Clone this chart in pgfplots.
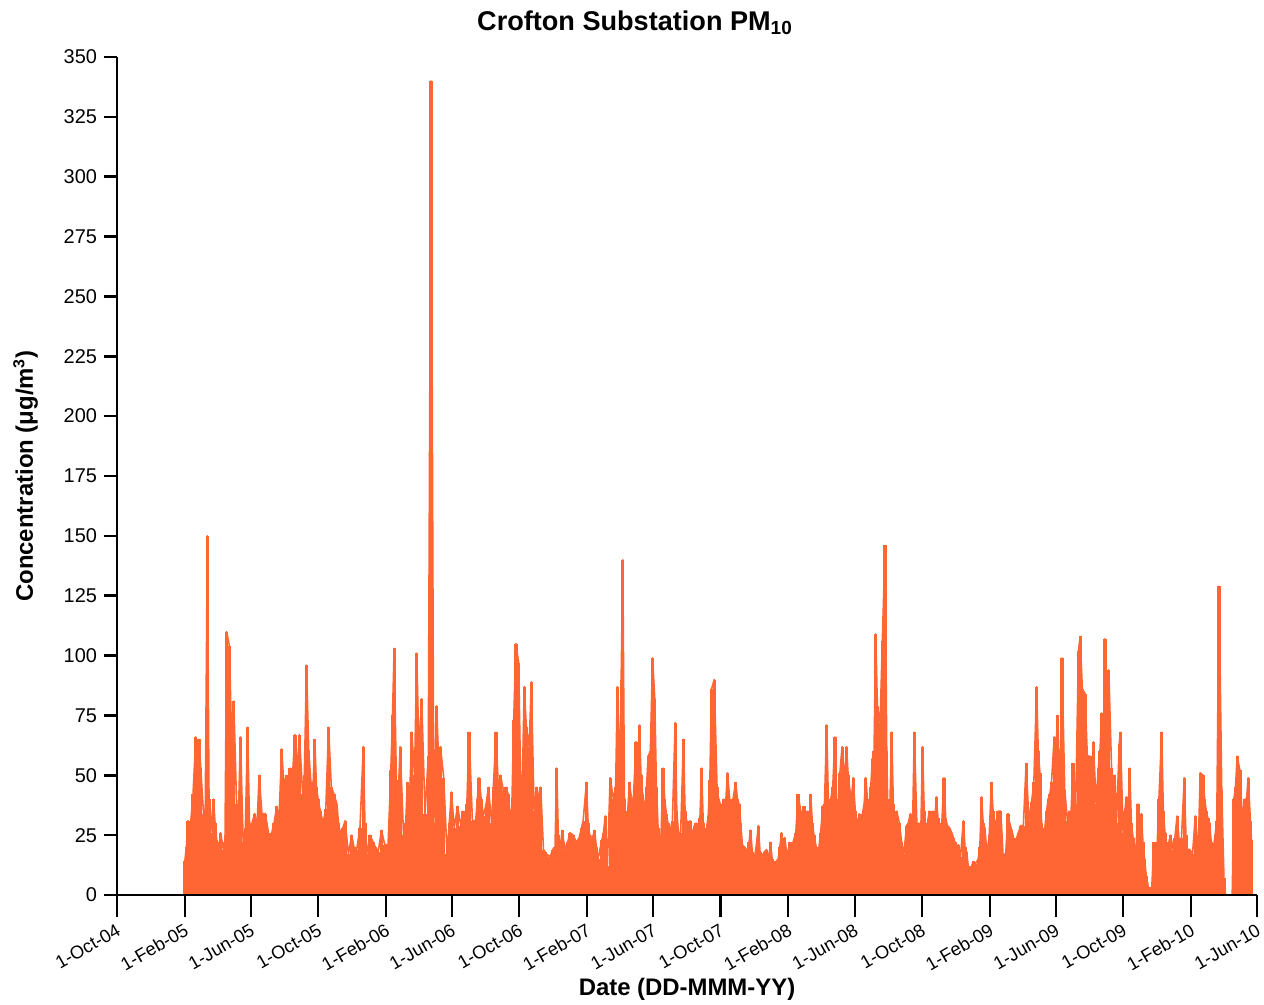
\documentclass[border=0pt]{standalone}
\usepackage{fontspec}
\setmainfont{Liberation Sans}
\usepackage{pgfplots}
\usepackage{pgfplotstable}
\pgfplotsset{compat=1.18}
\definecolor{pmorange}{HTML}{FF6633}
% day = days since 1-Oct-04, pm = daily PM10 (ug/m3)
\pgfplotstableread{
day pm
123 14
126 20
129 31
133 28
138 42
143 66
146 60
149 65
152 53
157 34
160 30
164 150
167 40
170 26
175 40
178 30
181 23
185 20
188 26
193 19
196 22
199 110
204 104
208 65
212 81
217 38
220 30
224 66
229 22
233 28
237 70
241 24
245 30
250 34
254 28
258 50
263 34
269 34
272 30
275 26
278 22
281 26
285 30
290 37
294 32
299 61
303 45
307 50
310 44
314 53
318 48
323 67
327 52
331 67
337 42
340 50
344 96
348 60
352 47
355 40
359 65
362 45
365 40
369 35
374 30
379 36
384 70
389 45
394 42
399 38
402 30
405 26
410 28
414 31
420 17
426 25
430 20
435 19
441 28
447 62
450 30
453 17
459 25
465 22
469 20
474 18
480 27
486 21
492 21
497 52
500 75
503 103
507 48
510 40
514 62
520 25
524 30
527 47
531 40
535 68
540 50
544 101
548 60
553 82
559 34
565 58
570 340
575 30
580 79
584 55
587 62
593 49
599 17
603 30
607 43
612 28
618 37
624 29
628 35
632 30
635 38
639 68
645 31
651 31
654 40
657 49
661 40
665 33
670 38
674 45
680 30
683 45
688 68
692 45
696 50
701 44
706 45
710 42
713 35
716 30
720 73
724 105
729 97
733 41
736 50
739 87
743 70
748 62
752 89
757 35
762 45
766 40
769 45
774 19
777 18
780 17
786 16
791 19
795 20
798 53
801 25
804 19
808 27
811 22
815 19
818 22
822 26
828 25
834 22
839 24
843 28
846 31
852 47
855 30
858 25
863 24
867 27
870 20
873 15
880 23
883 26
886 33
890 12
895 49
901 40
905 45
908 87
912 50
915 90
918 140
921 40
924 27
927 35
930 47
934 40
937 39
942 64
945 50
948 71
951 50
954 42
958 35
961 45
964 58
968 60
972 99
976 82
979 45
982 28
987 21
991 53
994 40
997 34
1000 30
1004 27
1008 31
1013 72
1016 35
1019 26
1023 26
1028 65
1031 35
1034 31
1037 28
1040 31
1044 25
1048 29
1051 30
1055 29
1058 32
1061 53
1064 30
1067 26
1070 28
1073 33
1076 48
1079 86
1084 90
1089 45
1092 40
1095 38
1098 35
1101 40
1104 36
1108 51
1112 40
1115 38
1118 40
1123 47
1126 40
1129 38
1132 30
1135 21
1139 20
1143 18
1147 22
1150 27
1153 18
1156 14
1160 20
1164 29
1167 18
1170 16
1175 18
1179 19
1183 15
1186 22
1189 15
1192 11
1196 14
1200 15
1203 20
1206 26
1209 22
1212 24
1216 16
1221 22
1224 18
1227 22
1232 26
1236 42
1241 35
1244 30
1247 37
1250 30
1253 35
1256 30
1259 42
1262 30
1265 25
1269 20
1273 18
1277 26
1281 37
1284 38
1288 71
1291 40
1294 38
1299 45
1303 66
1306 40
1309 33
1312 51
1316 62
1320 48
1324 62
1327 50
1330 44
1333 40
1336 49
1340 35
1343 29
1347 34
1350 30
1353 34
1356 38
1359 49
1362 40
1365 37
1368 45
1371 57
1374 60
1377 109
1380 79
1385 72
1389 106
1394 146
1397 60
1400 22
1403 40
1406 68
1409 38
1412 30
1415 35
1420 30
1424 22
1428 17
1433 29
1436 30
1440 34
1444 30
1447 68
1452 27
1455 30
1459 28
1462 62
1465 35
1468 27
1471 30
1474 35
1478 34
1481 35
1484 30
1487 41
1490 32
1493 28
1497 30
1501 49
1504 32
1507 29
1511 28
1515 26
1518 24
1521 22
1524 20
1527 21
1531 16
1536 31
1539 20
1542 18
1545 12
1548 10
1551 12
1554 14
1558 13
1563 15
1566 20
1569 41
1572 30
1575 28
1579 17
1583 25
1587 47
1590 35
1593 31
1596 30
1599 35
1604 35
1608 17
1613 17
1617 34
1620 30
1624 27
1627 24
1630 22
1633 24
1636 26
1640 29
1645 29
1650 55
1655 31
1660 39
1664 47
1669 87
1672 60
1675 51
1678 30
1681 15
1684 28
1687 35
1690 40
1693 42
1696 47
1701 66
1704 60
1707 75
1711 40
1715 99
1720 44
1725 31
1728 35
1731 31
1735 55
1740 38
1745 102
1748 108
1752 86
1757 84
1761 58
1766 58
1770 51
1772 64
1777 38
1781 53
1784 60
1787 76
1790 55
1793 107
1797 59
1800 94
1805 53
1808 48
1811 50
1814 30
1819 63
1821 68
1826 26
1829 35
1832 41
1835 35
1838 53
1841 30
1844 24
1849 17
1853 38
1856 30
1859 34
1862 22
1865 15
1868 8
1872 3
1875 3
1878 3
1882 22
1885 20
1888 22
1891 40
1896 68
1899 35
1902 26
1906 19
1909 22
1912 25
1917 19
1920 24
1924 33
1929 19
1932 24
1937 49
1940 25
1942 19
1947 19
1952 17
1957 33
1962 17
1966 51
1971 50
1974 40
1977 35
1980 32
1983 30
1986 22
1989 18
1993 25
1996 31
2000 129
2005 44
2009 7
2012 0
2024 0
2027 40
2030 45
2033 58
2038 52
2042 33
2047 40
2050 40
2053 49
2057 31
2059 23
}\pmdata
\pgfplotsset{
  pmframe/.style={
    at={(0,0)}, anchor=south west,
    scale only axis, width=570bp, height=419bp,
    xmin=0, xmax=2069, ymin=0, ymax=350,
    tick align=outside,
    axis line style={line width=1.25bp, black},
    tick style={line width=1.25bp, black},
    /pgf/number format/assume math mode=true,
  },
}
\begin{document}
\begin{tikzpicture}
\path[use as bounding box] (-58.5bp,-55bp) rectangle (573.5bp,447.5bp);
% data, y axis, title and y label
\begin{axis}[
  pmframe,
  axis y line*=left, axis x line=none,
  major tick length=6.5bp,
  xtick=\empty,
  ytick={0,25,...,350},
  y tick label style={font=\fontsize{10}{11}\selectfont},
  title={Crofton Substation PM\textsubscript{10}},
  title style={at={(0.4544,1.0179)}, anchor=base, font=\bfseries\fontsize{13.6}{15}\selectfont},
  ylabel={Concentration (μg/m\textsuperscript{3})},
  ylabel style={at={(-0.0737,0.5)}, anchor=base, font=\bfseries\fontsize{12}{14}\selectfont},
]
\addplot[ycomb, draw=pmorange, line width=1.6bp] table[x=day, y=pm] {\pmdata};
\addplot[sharp plot, draw=pmorange, line width=0.8bp, line join=round] table[x=day, y=pm] {\pmdata};
\end{axis}
% date axis with its longer ticks
\begin{axis}[
  pmframe,
  axis x line*=bottom, axis y line=none,
  major tick length=11bp,
  ytick=\empty,
  xtick={0,123,243,365,488,608,730,853,973,1095,1218,1339,1461,1584,1704,1826,1949,2069},
  xticklabels={1-Oct-04,1-Feb-05,1-Jun-05,1-Oct-05,1-Feb-06,1-Jun-06,1-Oct-06,1-Feb-07,1-Jun-07,1-Oct-07,1-Feb-08,1-Jun-08,1-Oct-08,1-Feb-09,1-Jun-09,1-Oct-09,1-Feb-10,1-Jun-10},
  x tick label style={rotate=30, anchor=north east, inner sep=2bp, font=\fontsize{9.2}{10}\selectfont},
  xlabel={Date (DD-MMM-YY)},
  xlabel style={at={(0.5,-0.1205)}, anchor=base, font=\bfseries\fontsize{12}{14}\selectfont},
]
\end{axis}
\end{tikzpicture}
\end{document}
